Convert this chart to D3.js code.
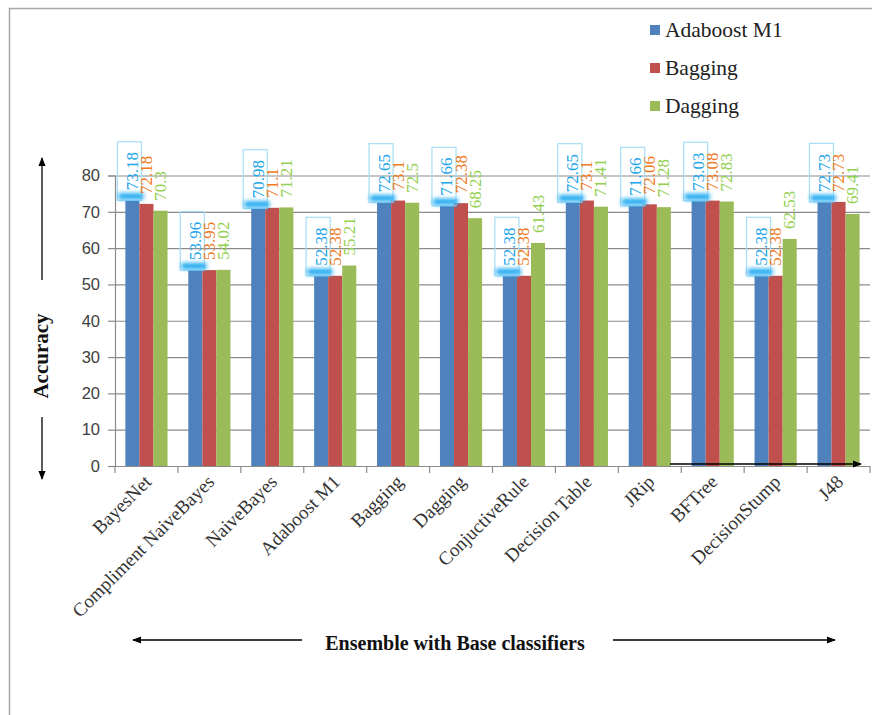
<!DOCTYPE html>
<html>
<head>
<meta charset="utf-8">
<script src="https://cdn.jsdelivr.net/npm/d3@7"></script>
<style>
  html, body { margin: 0; padding: 0; background: #fff; }
  svg { display: block; }
</style>
</head>
<body>
<svg id="chart" width="872" height="715"></svg>
<script>
// Classifiers on the x axis
const categories = ["BayesNet", "Compliment NaiveBayes", "NaiveBayes", "Adaboost M1", "Bagging",
  "Dagging", "ConjuctiveRule", "Decision Table", "JRip", "BFTree", "DecisionStump", "J48"];

// Accuracy of each ensemble method per base classifier
const adaboostM1 = [73.18, 53.96, 70.98, 52.38, 72.65, 71.66, 52.38, 72.65, 71.66, 73.03, 52.38, 72.73];
const bagging    = [72.18, 53.95, 71.1, 52.38, 73.1, 72.38, 52.38, 73.1, 72.06, 73.08, 52.38, 72.73];
const dagging    = [70.3, 54.02, 71.21, 55.21, 72.5, 68.25, 61.43, 71.41, 71.28, 72.83, 62.53, 69.41];

const seriesNames = ["Adaboost M1", "Bagging", "Dagging"];
const yTicks = [0, 10, 20, 30, 40, 50, 60, 70, 80];

const seriesValues = [adaboostM1, bagging, dagging];
const barColors = ["#4F81BD", "#C0504D", "#9BBB59"];
const labelColors = ["#22a6ea", "#f07a22", "#92d050"];

const svg = d3.select("#chart");

const defs = svg.append("defs");
defs.append("filter").attr("id", "glow").attr("x", "-50%").attr("y", "-80%")
  .attr("width", "200%").attr("height", "260%")
  .append("feGaussianBlur").attr("stdDeviation", 2);
const marker = defs.append("marker").attr("id", "arrow")
  .attr("viewBox", "0 0 10 10").attr("refX", 9).attr("refY", 5)
  .attr("markerWidth", 9).attr("markerHeight", 9).attr("markerUnits", "userSpaceOnUse")
  .attr("orient", "auto-start-reverse");
marker.append("path").attr("d", "M0,1 L10,5 L0,9 Z").attr("fill", "#000");

// Chart frame
svg.append("path").attr("d", "M9.5,715 L9.5,8.5 L872,8.5")
  .attr("fill", "none").attr("stroke", "#a6a6a6").attr("stroke-width", 1.5);

const plotLeft = 115, plotRight = 870, plotTop = 175.5, plotBottom = 466;

const x = d3.scaleBand().domain(categories).range([plotLeft, plotRight]).paddingInner(0.33).paddingOuter(0.165);
const xs = d3.scaleBand().domain(d3.range(3)).range([0, x.bandwidth()]);
const y = d3.scaleLinear().domain([0, 80]).range([plotBottom, plotTop]);

// Horizontal gridlines
svg.append("g").selectAll("line").data(yTicks.filter(t => t > 0)).join("line")
  .attr("x1", plotLeft).attr("x2", plotRight)
  .attr("y1", d => y(d) + 0.5).attr("y2", d => y(d) + 0.5)
  .attr("stroke", "#8c8c8c").attr("stroke-width", 1.2);

// Bars
const groups = svg.append("g").selectAll("g").data(categories).join("g")
  .attr("transform", d => `translate(${x(d)},0)`);

groups.selectAll("rect").data((d, i) => seriesValues.map((s, k) => ({ k, v: s[i] }))).join("rect")
  .attr("x", d => xs(d.k)).attr("width", xs.bandwidth())
  .attr("y", d => y(d.v)).attr("height", d => plotBottom - y(d.v))
  .attr("fill", d => barColors[d.k]);

// Y axis
const yAxis = d3.axisLeft(y).tickValues(yTicks).tickSize(7).tickPadding(8);
const gy = svg.append("g").attr("transform", `translate(${plotLeft},0)`).call(yAxis);
gy.select(".domain").attr("stroke", "#8c8c8c").attr("stroke-width", 1.2);
gy.selectAll(".tick line").attr("stroke", "#8c8c8c").attr("stroke-width", 1.2);
gy.selectAll(".tick text").attr("font-family", "'Liberation Sans', Arial, sans-serif")
  .attr("font-size", 16.5).attr("fill", "#404040");

// X axis with ticks on the category boundaries
svg.append("line").attr("x1", plotLeft).attr("x2", plotRight)
  .attr("y1", plotBottom + 0.5).attr("y2", plotBottom + 0.5)
  .attr("stroke", "#8c8c8c").attr("stroke-width", 1.2);
const bounds = categories.map(c => x(c) - x.step() * x.paddingInner() / 2);
bounds.push(plotRight);
svg.append("g").selectAll("line").data(bounds).join("line")
  .attr("x1", d => d).attr("x2", d => d).attr("y1", plotBottom).attr("y2", plotBottom + 7)
  .attr("stroke", "#8c8c8c").attr("stroke-width", 1.2);

svg.append("g").selectAll("text").data(categories).join("text")
  .attr("transform", d => `translate(${x(d) + x.bandwidth() / 2 + 6},${plotBottom + 17}) rotate(-45)`)
  .attr("text-anchor", "end")
  .attr("font-family", "'Liberation Serif', 'Times New Roman', serif")
  .attr("font-size", 19).attr("fill", "#333")
  .text(d => d);

// Callout boxes behind the Adaboost M1 labels
const labelFont = 17;
const labelLen = v => String(v).length * labelFont * 0.5;
groups.each(function (c, i) {
  const g = d3.select(this);
  const v = adaboostM1[i];
  const bx = xs(0) - 8, bw = xs.bandwidth() + 10;
  const yb = y(v), yt = y(v) - 10 - labelLen(v) - 6;
  g.append("rect").attr("x", bx).attr("y", yt).attr("width", bw).attr("height", yb - yt)
    .attr("fill", "none").attr("stroke", "#a8def8").attr("stroke-width", 1.2);
  g.append("rect").attr("x", bx + 1).attr("y", yb - 7).attr("width", bw + 1).attr("height", 6)
    .attr("fill", "#12a6f0").attr("filter", "url(#glow)");
});

// Value labels
groups.selectAll("text.val").data((d, i) => seriesValues.map((s, k) => ({ k, v: s[i] }))).join("text")
  .attr("class", "val")
  .attr("transform", d => `translate(${xs(d.k) + xs.bandwidth() / 2},${y(d.v) - 10}) rotate(-90)`)
  .attr("text-anchor", "start").attr("dominant-baseline", "central")
  .attr("font-family", "'Liberation Serif', 'Times New Roman', serif")
  .attr("font-size", labelFont).attr("fill", d => labelColors[d.k])
  .text(d => String(d.v));

// Legend
const legend = svg.append("g").selectAll("g").data(seriesNames).join("g")
  .attr("transform", (d, i) => `translate(650,${30 + i * 38})`);
legend.append("rect").attr("x", 0).attr("y", -5).attr("width", 10).attr("height", 10)
  .attr("fill", (d, i) => barColors[i]);
legend.append("text").attr("x", 15).attr("y", 0).attr("dominant-baseline", "central")
  .attr("font-family", "'Liberation Serif', 'Times New Roman', serif")
  .attr("font-size", 21.5).attr("fill", "#222").text(d => d);

// Y axis title with arrows
svg.append("text").attr("transform", "translate(41,356) rotate(-90)")
  .attr("text-anchor", "middle").attr("dominant-baseline", "central")
  .attr("font-family", "'Liberation Serif', 'Times New Roman', serif")
  .attr("font-weight", "bold").attr("font-size", 21).attr("fill", "#111").text("Accuracy");
svg.append("line").attr("x1", 42).attr("x2", 42).attr("y1", 280).attr("y2", 158)
  .attr("stroke", "#000").attr("stroke-width", 1.3).attr("marker-end", "url(#arrow)");
svg.append("line").attr("x1", 42).attr("x2", 42).attr("y1", 417).attr("y2", 479)
  .attr("stroke", "#000").attr("stroke-width", 1.3).attr("marker-end", "url(#arrow)");

// X axis title with arrows
svg.append("text").attr("x", 455).attr("y", 643).attr("text-anchor", "middle")
  .attr("dominant-baseline", "central")
  .attr("font-family", "'Liberation Serif', 'Times New Roman', serif")
  .attr("font-weight", "bold").attr("font-size", 20).attr("fill", "#111")
  .text("Ensemble with Base classifiers");
svg.append("line").attr("x1", 302).attr("x2", 133).attr("y1", 640).attr("y2", 640)
  .attr("stroke", "#000").attr("stroke-width", 1.3).attr("marker-end", "url(#arrow)");
svg.append("line").attr("x1", 613).attr("x2", 835).attr("y1", 640).attr("y2", 640)
  .attr("stroke", "#000").attr("stroke-width", 1.3).attr("marker-end", "url(#arrow)");

// Arrow drawn along the base of the last groups
svg.append("line").attr("x1", 670).attr("x2", 861).attr("y1", 464).attr("y2", 464)
  .attr("stroke", "#000").attr("stroke-width", 1.6).attr("marker-end", "url(#arrow)");
</script>
</body>
</html>
